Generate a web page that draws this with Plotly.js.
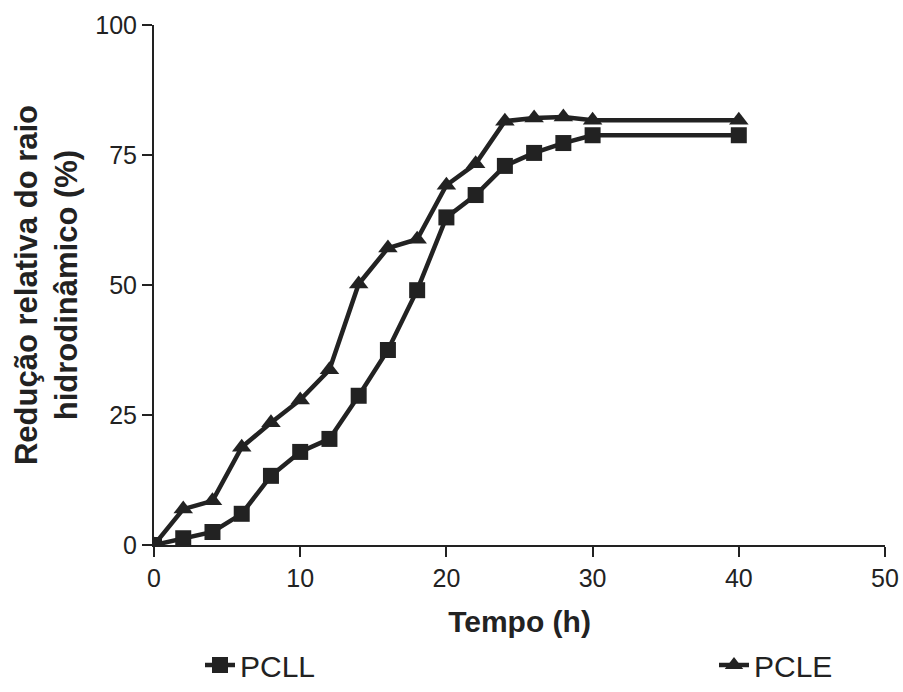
<!DOCTYPE html>
<html>
<head>
<meta charset="utf-8">
<script src="https://cdn.plot.ly/plotly-3.0.1.min.js"></script>
<style>html,body{margin:0;padding:0;background:#fff;}#chart{width:903px;height:692px;}</style>
</head>
<body>
<div id="chart"></div>
<script>
const tempo = [0, 2, 4, 6, 8, 10, 12, 14, 16, 18, 20, 22, 24, 26, 28, 30, 40];
const pcll = [0, 1.3, 2.5, 6, 13.3, 17.9, 20.4, 28.7, 37.5, 49, 63, 67.3, 72.9, 75.4, 77.3, 78.8, 78.8];
const pcle = [0, 6.9, 8.5, 18.8, 23.5, 27.9, 33.7, 50.2, 57.1, 58.8, 69.2, 73.3, 81.5, 82.1, 82.3, 81.7, 81.7];
const xTicks = [0, 10, 20, 30, 40, 50];
const yTicks = [0, 25, 50, 75, 100];

const ink = '#222222';
const traces = [
  {x: tempo, y: pcll, name: 'PCLL', mode: 'lines+markers', legend: 'legend',
   line: {color: ink, width: 4.5}, marker: {symbol: 'square', size: 16, color: ink}},
  {x: tempo, y: pcle, name: 'PCLE', mode: 'lines+markers', legend: 'legend2',
   line: {color: ink, width: 4.5}, marker: {symbol: 'triangle-up', size: 17, color: ink}}
];
const legFont = {family: 'Arial, "Liberation Sans", sans-serif', size: 30, color: ink};
const layout = {
  width: 903, height: 692,
  paper_bgcolor: '#ffffff', plot_bgcolor: '#ffffff',
  margin: {l: 154, r: 18, t: 25, b: 147, autoexpand: false},
  font: {family: 'Arial, "Liberation Sans", sans-serif', color: ink, size: 25},
  xaxis: {range: [0, 50], tickvals: xTicks, ticks: 'outside', ticklen: 10, tickwidth: 2,
    tickcolor: ink, showline: true, linecolor: ink, linewidth: 2, showgrid: false, zeroline: false,
    tickfont: {size: 25, color: ink},
    title: {text: '<b>Tempo (h)</b>', font: {size: 30, color: ink}, standoff: 20}},
  yaxis: {range: [0, 100], tickvals: yTicks, ticks: 'outside', ticklen: 10, tickwidth: 2,
    tickcolor: ink, showline: true, linecolor: ink, linewidth: 2, showgrid: false, zeroline: false,
    tickfont: {size: 25, color: ink},
    title: {text: '<b>Redução relativa do raio<br>hidrodinâmico (%)</b>', font: {size: 31, color: ink}, standoff: 8}},
  showlegend: true,
  legend: {orientation: 'h', xref: 'container', yref: 'container', x: 200/903, xanchor: 'left',
    y: 27/692, yanchor: 'middle', font: legFont, bgcolor: 'rgba(0,0,0,0)'},
  legend2: {orientation: 'h', xref: 'container', yref: 'container', x: 714/903, xanchor: 'left',
    y: 27/692, yanchor: 'middle', font: legFont, bgcolor: 'rgba(0,0,0,0)'}
};
Plotly.newPlot('chart', traces, layout, {displayModeBar: false, staticPlot: true});
</script>
</body>
</html>
